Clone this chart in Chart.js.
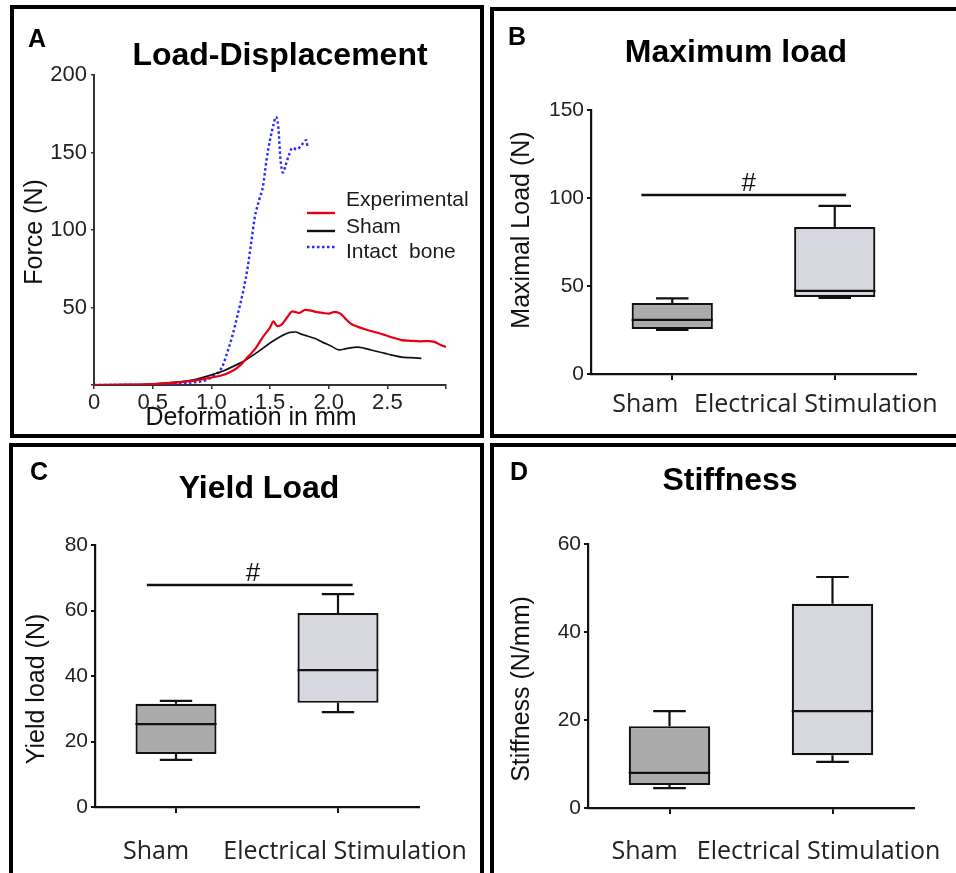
<!DOCTYPE html>
<html><head><meta charset="utf-8">
<script src="https://cdn.jsdelivr.net/npm/chart.js@4.4.1/dist/chart.umd.min.js"></script>
<style>
html,body{margin:0;padding:0;background:#fff;width:956px;height:873px;overflow:hidden;position:relative}
.panel{position:absolute;box-sizing:border-box;border:4px solid #000;}
canvas{position:absolute;left:0;top:0;}
.t{position:absolute;font-family:"Liberation Sans",Arial,sans-serif;font-weight:bold;color:#000;line-height:1;white-space:nowrap}
</style></head><body>
<div class="panel" style="left:10px;top:5px;width:474px;height:433px"></div>
<div class="panel" style="left:490px;top:7px;width:480px;height:431px"></div>
<div class="panel" style="left:9px;top:443px;width:475px;height:450px"></div>
<div class="panel" style="left:490px;top:443px;width:480px;height:450px"></div>
<canvas id="cA" width="956" height="873"></canvas>
<canvas id="cB" width="956" height="873"></canvas>
<canvas id="cC" width="956" height="873"></canvas>
<canvas id="cD" width="956" height="873"></canvas>
<script>
// ---------------- DATA ----------------
// Panel A: load-displacement curves [deformation mm, force N]
const experimentalCurve = [[0,0],[0.3,0.2],[0.5,0.6],[0.7,1.5],[0.85,2.8],[1.0,4.8],[1.1,6.5],[1.19,9.5],[1.25,13],[1.31,18],[1.38,24],[1.44,31],[1.5,37],[1.53,41],[1.56,38],[1.6,39],[1.65,44],[1.69,47.5],[1.72,47],[1.75,46.5],[1.8,48.5],[1.85,48],[1.9,47],[1.95,46.5],[2.0,46],[2.05,47.2],[2.1,46],[2.14,43],[2.19,39.5],[2.25,37.5],[2.33,35.5],[2.4,34],[2.47,32.5],[2.55,30.5],[2.62,29],[2.7,28.5],[2.78,28.2],[2.85,28.3],[2.9,27.8],[2.95,26],[3.0,24.5]];
const shamCurve = [[0,0],[0.3,0.2],[0.5,0.6],[0.7,1.8],[0.85,3.4],[1.0,6.5],[1.1,9],[1.2,12.5],[1.3,16.5],[1.4,21.5],[1.48,26],[1.55,29.5],[1.62,32.5],[1.67,34],[1.72,34.2],[1.76,33],[1.8,32],[1.85,30.8],[1.9,29.5],[1.95,27.5],[2.02,25.2],[2.09,22.6],[2.15,23.5],[2.25,24.5],[2.3,23.8],[2.36,22.6],[2.45,21],[2.5,20],[2.56,19],[2.62,18],[2.7,17.6],[2.79,17.2]];
const intactBoneCurve = [[0,0],[0.3,0],[0.5,0.2],[0.7,0.8],[0.85,1.8],[0.95,3],[1.02,6],[1.07,9],[1.1,13],[1.14,22],[1.18,32],[1.22,44],[1.27,60],[1.31,76],[1.34,92],[1.37,108],[1.41,120],[1.44,128],[1.47,145],[1.5,158],[1.53,168],[1.55,173],[1.57,167],[1.59,145],[1.61,137],[1.63,141],[1.66,148],[1.69,153],[1.73,152],[1.77,155],[1.81,158],[1.82,153]];
const curveLabels = ['Experimental', 'Sham', 'Intact  bone'];
const deformationTickLabels = ['0','0.5','1.0','1.5','2.0','2.5'];

// Box plots
const categories = ['Sham', 'Electrical Stimulation'];
const maxLoadMin = [25, 43.2];
const maxLoadQ1 = [25.6, 43.8];
const maxLoadMedian = [30.7, 47.2];
const maxLoadQ3 = [40.3, 83.5];
const maxLoadMax = [43, 95.5];
const maxLoadSigLevel = [101.7];

const yieldMin = [14.4, 29];
const yieldQ1 = [16.2, 31.8];
const yieldMedian = [25.3, 41.8];
const yieldQ3 = [31.5, 59.2];
const yieldMax = [32.4, 65];
const yieldSigLevel = [67.8];

const stiffMin = [4.5, 10.5];
const stiffQ1 = [5.2, 12];
const stiffMedian = [8, 22];
const stiffQ3 = [18.6, 46.4];
const stiffMax = [22, 52.5];

// ---------------- HELPERS ----------------
const SANS = '"Liberation Sans", Arial, sans-serif';
const CAT = '"Open Sans", sans-serif';
function htmlText(text, x, baseline, size, align) {
  const d = document.createElement('div');
  d.className = 't'; d.textContent = text;
  d.style.fontSize = size + 'px';
  d.style.top = (baseline - 0.8465 * size) + 'px';
  d.style.left = x + 'px';
  if (align === 'center') d.style.transform = 'translateX(-50%)';
  document.body.appendChild(d);
}
htmlText('A', 28, 47, 25);
htmlText('B', 508, 45, 25);
htmlText('C', 30, 480, 25);
htmlText('D', 510, 480, 25);
htmlText('Load-Displacement', 280, 65, 32, 'center');
htmlText('Maximum load', 736, 62, 32, 'center');
htmlText('Yield Load', 259, 498, 32, 'center');
htmlText('Stiffness', 730, 490, 32, 'center');

const toXY = arr => arr.map(p => ({x: p[0], y: p[1]}));

// axis titles placed precisely (canvas text)
const axisTitles = {
  id: 'axisTitles',
  afterDraw(chart, args, o) {
    const ctx = chart.ctx;
    ctx.save();
    ctx.fillStyle = '#111';
    ctx.font = o.size + 'px ' + SANS;
    ctx.textAlign = 'center'; ctx.textBaseline = 'middle';
    (o.items || []).forEach(it => {
      ctx.save();
      ctx.translate(it.x, it.y);
      if (it.rotate) ctx.rotate(-Math.PI / 2);
      ctx.fillText(chart.options.scales[it.axis].title.text, 0, 0);
      ctx.restore();
    });
    ctx.restore();
  }
};

const lineLegend = {
  id: 'lineLegend',
  afterDraw(chart, args, o) {
    const ctx = chart.ctx;
    ctx.save();
    chart.data.datasets.forEach((ds, i) => {
      ctx.beginPath();
      ctx.strokeStyle = ds.borderColor;
      ctx.lineWidth = o.lineWidths[i];
      ctx.setLineDash(ds.borderDash || []);
      ctx.moveTo(o.x0, o.lineY[i]); ctx.lineTo(o.x1, o.lineY[i]);
      ctx.stroke();
      ctx.setLineDash([]);
      ctx.fillStyle = '#1a1a1a';
      ctx.font = '21px ' + SANS;
      ctx.textAlign = 'left'; ctx.textBaseline = 'middle';
      ctx.fillText(ds.label, o.textX, o.textY[i]);
    });
    ctx.restore();
  }
};

const boxExtras = {
  id: 'boxExtras',
  afterDatasetsDraw(chart, args, o) {
    const ctx = chart.ctx, xs = chart.scales.x, ys = chart.scales.y;
    const meta = chart.getDatasetMeta(0);
    const catW = xs.getPixelForValue(1) - xs.getPixelForValue(0);
    ctx.save();
    ctx.strokeStyle = '#111';
    ctx.lineCap = 'butt';
    for (let i = 0; i < o.median.length; i++) {
      const cx = xs.getPixelForValue(i);
      const hw = meta.data[i].width / 2;
      const ch = catW * 0.1;
      ctx.lineWidth = 2.2;
      ctx.beginPath();
      ctx.moveTo(cx - hw, ys.getPixelForValue(o.median[i])); ctx.lineTo(cx + hw, ys.getPixelForValue(o.median[i]));
      ctx.moveTo(cx, ys.getPixelForValue(o.q3[i])); ctx.lineTo(cx, ys.getPixelForValue(o.max[i]));
      ctx.moveTo(cx - ch, ys.getPixelForValue(o.max[i])); ctx.lineTo(cx + ch, ys.getPixelForValue(o.max[i]));
      ctx.moveTo(cx, ys.getPixelForValue(o.q1[i])); ctx.lineTo(cx, ys.getPixelForValue(o.min[i]));
      ctx.moveTo(cx - ch, ys.getPixelForValue(o.min[i])); ctx.lineTo(cx + ch, ys.getPixelForValue(o.min[i]));
      ctx.stroke();
    }
    if (o.sig) {
      const y = ys.getPixelForValue(o.sig.level[0]);
      const x0 = xs.getPixelForValue(0) + o.sig.from * catW;
      const x1 = xs.getPixelForValue(0) + o.sig.to * catW;
      ctx.lineWidth = 2.5;
      ctx.beginPath(); ctx.moveTo(x0, y); ctx.lineTo(x1, y); ctx.stroke();
      ctx.fillStyle = '#111';
      ctx.font = '26px ' + SANS;
      ctx.textAlign = 'center'; ctx.textBaseline = 'alphabetic';
      ctx.fillText('#', xs.getPixelForValue(0) + o.sig.mark * catW, y - 4);
    }
    ctx.fillStyle = '#222';
    ctx.font = '25px ' + CAT;
    ctx.textAlign = 'center'; ctx.textBaseline = 'alphabetic';
    chart.data.labels.forEach((lab, i) => {
      ctx.fillText(lab, xs.getPixelForValue(i) + o.labelDx[i], o.labelY);
    });
    ctx.restore();
  }
};

// ---------------- PANEL A ----------------
new Chart(document.getElementById('cA'), {
  type: 'line',
  data: {
    datasets: [
      {label: curveLabels[0], data: toXY(experimentalCurve), borderColor: '#e60012', borderWidth: 2.2, pointRadius: 0, fill: false, cubicInterpolationMode: 'monotone'},
      {label: curveLabels[1], data: toXY(shamCurve), borderColor: '#111111', borderWidth: 1.7, pointRadius: 0, fill: false, cubicInterpolationMode: 'monotone'},
      {label: curveLabels[2], data: toXY(intactBoneCurve), borderColor: '#2a2aff', borderWidth: 2.4, borderDash: [2.5, 2.5], pointRadius: 0, fill: false, cubicInterpolationMode: 'monotone'}
    ]
  },
  options: {
    responsive: false, animation: false, events: [],
    layout: {padding: {left: 20, top: 75, right: 510, bottom: 440}},
    plugins: {
      legend: {display: false}, tooltip: {enabled: false},
      lineLegend: {x0: 307, x1: 335, lineY: [213, 231, 247], lineWidths: [2.4, 2.4, 2.6], textX: 346, textY: [200, 227, 252]},
      axisTitles: {size: 25, items: [{axis: 'x', x: 251, y: 418}, {axis: 'y', x: 35, y: 232, rotate: true}]}
    },
    scales: {
      x: {
        type: 'linear', min: 0, max: 3,
        afterFit(s) { s.height = 48; },
        ticks: {stepSize: 0.5, autoSkip: false, maxRotation: 0, padding: 1, color: '#222', font: {family: SANS, size: 22},
          callback: v => { const i = Math.round(v / 0.5); return deformationTickLabels[i] !== undefined ? deformationTickLabels[i] : ''; }},
        grid: {drawOnChartArea: false, tickLength: 4, color: '#333', lineWidth: 1.5},
        border: {color: '#333', width: 2},
        title: {display: false, text: 'Deformation in mm'}
      },
      y: {
        min: 0, max: 200,
        afterFit(s) { s.width = 74; },
        ticks: {stepSize: 50, padding: 4, color: '#222', font: {family: SANS, size: 22}, callback: v => v === 0 ? '' : v},
        grid: {drawOnChartArea: false, tickLength: 3, color: '#333', lineWidth: 1.5},
        border: {color: '#333', width: 2},
        title: {display: false, text: 'Force (N)'}
      }
    }
  },
  plugins: [lineLegend, axisTitles]
});

// ---------------- BOX PANELS ----------------
function boxChart(id, cfg) {
  return new Chart(document.getElementById(id), {
    type: 'bar',
    data: {
      labels: categories,
      datasets: [{
        data: cfg.q1.map((v, i) => [v, cfg.q3[i]]),
        backgroundColor: ['#ababab', '#d7d7df'],
        borderColor: '#111', borderWidth: 2.2, borderSkipped: false,
        barPercentage: 0.5, categoryPercentage: 1
      }]
    },
    options: {
      responsive: false, animation: false, events: [],
      layout: {padding: cfg.padding},
      plugins: {
        legend: {display: false}, tooltip: {enabled: false},
        boxExtras: {q1: cfg.q1, q3: cfg.q3, median: cfg.median, min: cfg.min, max: cfg.max, sig: cfg.sig, labelDx: cfg.labelDx, labelY: cfg.labelY},
        axisTitles: {size: 25, items: [{axis: 'y', x: cfg.titleX, y: cfg.titleY, rotate: true}]}
      },
      scales: {
        x: {
          offset: true,
          afterFit(s) { s.height = 40; },
          ticks: {display: false},
          grid: {offset: false, drawOnChartArea: false, tickLength: 6, color: '#111', lineWidth: 2},
          border: {color: '#111', width: 2.2}
        },
        y: {
          min: 0, max: cfg.yMax,
          afterFit(s) { s.width = cfg.yWidth; },
          ticks: {stepSize: cfg.step, padding: 3, color: '#222', font: {family: SANS, size: 21}},
          grid: {drawOnChartArea: false, tickLength: 4, color: '#111', lineWidth: 2},
          border: {color: '#111', width: 2.2},
          title: {display: false, text: cfg.yTitle}
        }
      }
    },
    plugins: [boxExtras, axisTitles]
  });
}

boxChart('cB', {
  q1: maxLoadQ1, q3: maxLoadQ3, median: maxLoadMedian, min: maxLoadMin, max: maxLoadMax,
  sig: {level: maxLoadSigLevel, from: -0.19, to: 1.07, mark: 0.47},
  yMax: 150, step: 50, yTitle: 'Maximal Load (N)', yWidth: 84, titleX: 522, titleY: 230,
  padding: {left: 507, top: 110, right: 40, bottom: 459},
  labelDx: [-27, -19], labelY: 412
});
boxChart('cC', {
  q1: yieldQ1, q3: yieldQ3, median: yieldMedian, min: yieldMin, max: yieldMax,
  sig: {level: yieldSigLevel, from: -0.18, to: 1.09, mark: 0.475},
  yMax: 80, step: 20, yTitle: 'Yield load (N)', yWidth: 73, titleX: 37, titleY: 689,
  padding: {left: 22, top: 545, right: 537, bottom: 26},
  labelDx: [-20, 7], labelY: 859
});
boxChart('cD', {
  q1: stiffQ1, q3: stiffQ3, median: stiffMedian, min: stiffMin, max: stiffMax,
  sig: null,
  yMax: 60, step: 20, yTitle: 'Stiffness (N/mm)', yWidth: 81, titleX: 522, titleY: 689,
  padding: {left: 507, top: 544, right: 42, bottom: 25},
  labelDx: [-25, -14], labelY: 859
});
</script>
</body></html>
